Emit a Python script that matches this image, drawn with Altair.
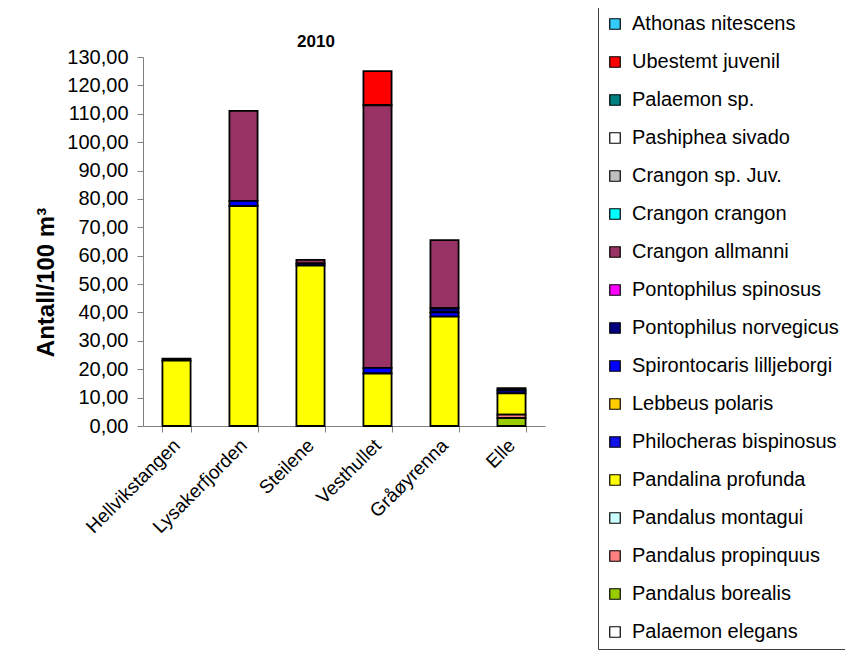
import altair as alt
import pandas as pd

sites = ["Hellvikstangen", "Lysakerfjorden", "Steilene", "Vesthullet", "Gråøyrenna", "Elle"]

species = [
    "Athonas nitescens", "Ubestemt juvenil", "Palaemon sp.", "Pashiphea sivado",
    "Crangon sp. Juv.", "Crangon crangon", "Crangon allmanni", "Pontophilus spinosus",
    "Pontophilus norvegicus", "Spirontocaris lilljeborgi", "Lebbeus polaris",
    "Philocheras bispinosus", "Pandalina profunda", "Pandalus montagui",
    "Pandalus propinquus", "Pandalus borealis", "Palaemon elegans",
]

colors = [
    "#33CCFF", "#FF0000", "#008080", "#FFFFFF",
    "#C0C0C0", "#00FFFF", "#993366", "#FF00FF",
    "#000080", "#0000FF", "#FFCC00",
    "#1010E8", "#FFFF00", "#CCFFFF",
    "#FF8080", "#99CC00", "#FFFFFF",
]

athonas_nitescens = [0, 0, 0, 0, 0, 0]
ubestemt_juvenil = [0, 0, 0, 12.0, 0, 0]
palaemon_sp = [0, 0, 0, 0, 0, 0]
pashiphea_sivado = [0, 0, 0, 0, 0, 0]
crangon_sp_juv = [0, 0, 0, 0, 0, 0]
crangon_crangon = [0, 0, 0, 0, 0, 0]
crangon_allmanni = [0, 31.7, 1.2, 92.5, 24.0, 0]
pontophilus_spinosus = [0, 0, 0, 0, 0, 0]
pontophilus_norvegicus = [0.7, 0, 0.8, 0, 1.5, 0.8]
spirontocaris_lilljeborgi = [0, 1.8, 0, 2.0, 1.5, 1.0]
lebbeus_polaris = [0, 0, 0, 0, 0, 0]
philocheras_bispinosus = [0, 0, 0, 0, 0, 0]
pandalina_profunda = [23.0, 77.5, 56.5, 18.5, 38.5, 7.5]
pandalus_montagui = [0, 0, 0, 0, 0, 0]
pandalus_propinquus = [0, 0, 0, 0, 0, 1.2]
pandalus_borealis = [0, 0, 0, 0, 0, 2.8]
palaemon_elegans = [0, 0, 0, 0, 0, 0]

chart_title = ["2010"]

series = [
    athonas_nitescens, ubestemt_juvenil, palaemon_sp, pashiphea_sivado,
    crangon_sp_juv, crangon_crangon, crangon_allmanni, pontophilus_spinosus,
    pontophilus_norvegicus, spirontocaris_lilljeborgi, lebbeus_polaris,
    philocheras_bispinosus, pandalina_profunda, pandalus_montagui,
    pandalus_propinquus, pandalus_borealis, palaemon_elegans,
]

rows = []
n = len(species)
for i, (sp, vals) in enumerate(zip(species, series)):
    for site, v in zip(sites, vals):
        rows.append({"site": site, "species": sp, "value": v, "stackorder": n - i})
df = pd.DataFrame(rows)

FONT = "Liberation Sans"

bars = (
    alt.Chart(df)
    .transform_filter("datum.value > 0")
    .mark_bar(stroke="black", strokeWidth=1.8)
    .encode(
        x=alt.X(
            "site:N",
            sort=sites,
            title=None,
            scale=alt.Scale(paddingInner=0.58, paddingOuter=0.29),
            axis=alt.Axis(
                labelAngle=-45,
                labelAlign="right",
                labelBaseline="middle",
                labelFontSize=19,
                labelFont=FONT,
                labelColor="black",
                tickBand="extent",
                grid=False,
                domainColor="#808080",
                tickColor="#808080",
                tickSize=6,
                labelPadding=10,
            ),
        ),
        y=alt.Y(
            "sum(value):Q",
            title="Antall/100 m³",
            stack="zero",
            scale=alt.Scale(domain=[0, 130], nice=False),
            axis=alt.Axis(
                values=list(range(0, 131, 10)),
                labelExpr="replace(format(datum.value, '.2f'), '.', ',')",
                labelFontSize=20,
                labelFont=FONT,
                labelColor="black",
                labelPadding=9,
                grid=False,
                domainColor="#808080",
                tickColor="#808080",
                tickSize=6,
                titleFontSize=24,
                titleFont=FONT,
                titleFontWeight="bold",
                titleColor="black",
                titlePadding=8,
                titleY=225,
            ),
        ),
        color=alt.Color(
            "species:N",
            scale=alt.Scale(domain=species, range=colors),
            legend=alt.Legend(
                title=None,
                orient="none",
                legendX=455,
                legendY=-50,
                symbolType="square",
                symbolSize=110,
                symbolStrokeColor="black",
                symbolStrokeWidth=1.2,
                labelFontSize=20,
                labelFont=FONT,
                labelColor="black",
                labelOffset=7,
                rowPadding=18,
                padding=7,
                strokeColor="#404040",
                fillColor="white",
                labelLimit=300,
            ),
        ),
        order=alt.Order("stackorder:Q", sort="ascending"),
    )
)

title_text = (
    alt.Chart(pd.DataFrame({"t": chart_title}))
    .mark_text(font=FONT, fontSize=17, fontWeight="bold", color="black", baseline="middle", align="center")
    .encode(text="t:N", x=alt.value(173), y=alt.value(-15))
)

chart = (
    alt.layer(bars, title_text)
    .properties(
        width=402,
        height=369,
        padding={"left": 135, "top": 49, "right": 300, "bottom": 237},
        autosize=alt.AutoSizeParams(type="none"),
        background="white",
    )
    .configure_view(strokeOpacity=0, strokeWidth=0, fill="white")
)

chart.save("out.html", embed_options={"renderer": "svg", "actions": False})
